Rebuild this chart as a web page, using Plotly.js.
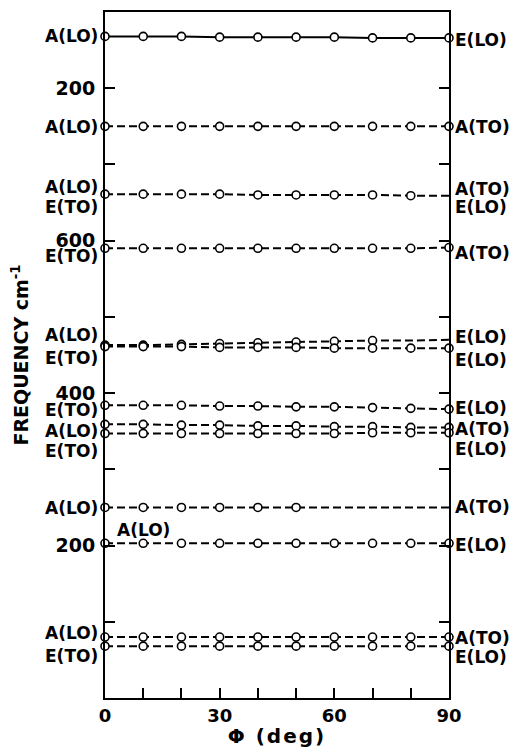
<!DOCTYPE html>
<html>
<head>
<meta charset="utf-8">
<script src="https://cdn.plot.ly/plotly-3.0.1.min.js"></script>
<style>
  html, body { margin: 0; padding: 0; background: #fff; }
  #chart { width: 511px; height: 748px; }
  .xtitle { letter-spacing: 2px; }
</style>
</head>
<body>
<div id="chart"></div>
<script>
// Angle between phonon wave vector and optic axis (deg)
const phi = [0, 10, 20, 30, 40, 50, 60, 70, 80, 90];

// Mode frequencies (cm-1) at each angle, top to bottom
const f868 = [868, 868, 868, 867, 867, 867, 867, 866, 866, 866];
const f750 = [750, 750, 750, 750, 750, 750, 750, 750, 750, 750];
const f661 = [661, 661, 661, 661, 660, 660, 660, 660, 659, 659];
const f590 = [590, 590, 590, 590, 590, 590, 590, 590, 590, 591];
const f464 = [463, 463, 464, 465, 466, 467, 468, 469, 469, 470];
const f460 = [461, 461, 461, 460, 460, 460, 459, 459, 459, 459];
const f384 = [384, 384, 384, 383, 383, 382, 382, 381, 380, 379];
const f359 = [359, 359, 358, 358, 357, 357, 356, 356, 355, 355];
const f347 = [347, 347, 347, 347, 347, 347, 347, 348, 348, 348];
const f250 = [250, 250, 250, 250, 250, 250, 250, 250, 250, 250];
const f203 = [203, 203, 203, 203, 203, 203, 203, 203, 203, 203];
const f80  = [80, 80, 80, 80, 80, 80, 80, 80, 80, 80];
const f68  = [68, 68, 68, 68, 68, 68, 68, 68, 68, 68];

// Number of measured angles (from 0 deg) for each branch
const measured = {
  f868: 10, f750: 10, f661: 9, f590: 10, f464: 8, f460: 10,
  f384: 10, f359: 10, f347: 10, f250: 6, f203: 10, f80: 10, f68: 10
};

// Labelled axis ticks
const yTickVals = [200, 400, 600, 800];
const yTickText = ['200', '400', '600', '200'];
const xTickVals = [0, 30, 60, 90];
const xTickText = ['0', '30', '60', '90'];

const branches = [
  { key: 'f868', y: f868, solid: true },
  { key: 'f750', y: f750 },
  { key: 'f661', y: f661 },
  { key: 'f590', y: f590 },
  { key: 'f464', y: f464 },
  { key: 'f460', y: f460 },
  { key: 'f384', y: f384 },
  { key: 'f359', y: f359 },
  { key: 'f347', y: f347 },
  { key: 'f250', y: f250 },
  { key: 'f203', y: f203 },
  { key: 'f80',  y: f80 },
  { key: 'f68',  y: f68 }
];

// End labels: side, text, branch, vertical pixel offset (positive = up)
const endLabels = [
  ['L', 'A(LO)', f868, 0],   ['R', 'E(LO)', f868, -2],
  ['L', 'A(LO)', f750, -1],  ['R', 'A(TO)', f750, -1],
  ['L', 'A(LO)', f661, 7],   ['L', 'E(TO)', f661, -13],
  ['R', 'A(TO)', f661, 7],   ['R', 'E(LO)', f661, -11],
  ['L', 'E(TO)', f590, -8],  ['R', 'A(TO)', f590, -5],
  ['L', 'A(LO)', f464, 10],  ['L', 'E(TO)', f460, -11],
  ['R', 'E(LO)', f464, 3],   ['R', 'E(LO)', f460, -12],
  ['L', 'E(TO)', f384, -5],  ['R', 'E(LO)', f384, 1],
  ['L', 'A(LO)', f359, -7],  ['L', 'E(TO)', f347, -17],
  ['R', 'A(TO)', f359, -2],  ['R', 'E(LO)', f347, -16],
  ['L', 'A(LO)', f250, -1],  ['R', 'A(TO)', f250, 0],
  ['R', 'E(LO)', f203, -2],
  ['L', 'A(LO)', f80, 4],    ['L', 'E(TO)', f68, -10],
  ['R', 'A(TO)', f80, -1],   ['R', 'E(LO)', f68, -11]
];

const labelFont = { family: 'DejaVu Sans, sans-serif', size: 17, color: '#000' };
const numFont = { family: 'DejaVu Sans, sans-serif', size: 19, color: '#000', weight: 700 };

const traces = [];
branches.forEach(b => {
  traces.push({
    x: phi, y: b.y, type: 'scatter', mode: 'lines',
    line: { color: '#000', width: 2, dash: b.solid ? 'solid' : '8px,4px' },
    hoverinfo: 'skip', showlegend: false
  });
});
branches.forEach(b => {
  const n = measured[b.key];
  traces.push({
    x: phi.slice(0, n), y: b.y.slice(0, n), type: 'scatter', mode: 'markers',
    marker: { symbol: 'circle', size: 8, color: '#fff', line: { color: '#000', width: 1.6 } },
    cliponaxis: false, showlegend: false
  });
});

const annotations = endLabels.map(([side, text, arr, dy]) => ({
  xref: 'paper', yref: 'y',
  x: side === 'L' ? 0 : 1,
  y: side === 'L' ? arr[0] : arr[arr.length - 1],
  xanchor: side === 'L' ? 'right' : 'left',
  yanchor: 'middle',
  xshift: side === 'L' ? -5 : 4,
  yshift: dy,
  text: '<b>' + text + '</b>',
  showarrow: false,
  font: labelFont
}));
// Label above the 203 cm-1 branch near 10 deg
annotations.push({
  xref: 'x', yref: 'y', x: 10, y: f203[1], yshift: 13,
  xanchor: 'center', yanchor: 'middle',
  text: '<b>A(LO)</b>', showarrow: false, font: labelFont
});

const tickStyle = { ticks: 'inside', ticklen: 10, tickwidth: 2, tickcolor: '#000' };

const layout = {
  width: 511, height: 748,
  margin: { l: 105, r: 62, t: 12, b: 50 },
  paper_bgcolor: '#fff', plot_bgcolor: '#fff',
  showlegend: false,
  xaxis: Object.assign({
    range: [0, 90], tickvals: xTickVals, ticktext: xTickText,
    minor: Object.assign({ tick0: 0, dtick: 10, showgrid: false }, tickStyle),
    showline: true, linewidth: 2, linecolor: '#000', mirror: true,
    showgrid: false, zeroline: false,
    tickfont: { family: 'DejaVu Sans, sans-serif', size: 18, color: '#000', weight: 700 },
    title: { text: '<b>Φ (deg)</b>', font: { family: 'DejaVu Sans, sans-serif', size: 20, color: '#000' }, standoff: 6 }
  }, tickStyle),
  yaxis: Object.assign({
    range: [0, 900], tickvals: yTickVals, ticktext: yTickText,
    minor: Object.assign({ tick0: 0, dtick: 100, showgrid: false }, tickStyle),
    showline: true, linewidth: 2, linecolor: '#000', mirror: 'ticks',
    showgrid: false, zeroline: false,
    tickfont: numFont, ticklabelstandoff: 4,
    title: { text: '<b>FREQUENCY cm<sup>-1</sup></b>', font: { family: 'DejaVu Sans, sans-serif', size: 19, color: '#000' }, standoff: 22 }
  }, tickStyle),
  annotations: annotations
};

Plotly.newPlot('chart', traces, layout, { staticPlot: true, displayModeBar: false });
</script>
</body>
</html>
